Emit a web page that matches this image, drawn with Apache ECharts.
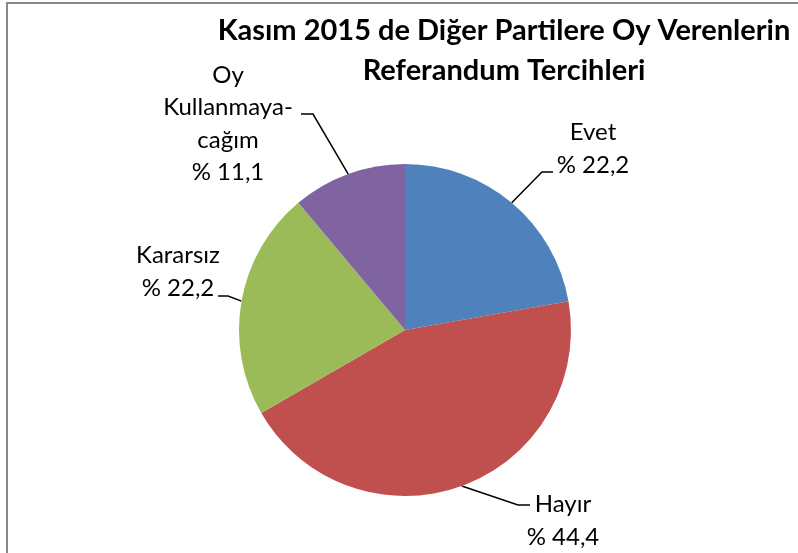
<!DOCTYPE html>
<html>
<head>
<meta charset="utf-8">
<script src="https://cdn.jsdelivr.net/npm/echarts@6/dist/echarts.min.js"></script>
<style>
    html, body { margin: 0; padding: 0; background: #fff; }
    #chart { width: 798px; height: 553px; }
</style>
</head>
<body>
<div id="chart"></div>
<script>
    var categories = ['Evet', 'Hayır', 'Kararsız', 'Oy\nKullanmaya-\ncağım']
    var values = [22.2, 44.4, 22.2, 11.1]
    var colors = ['#4F81BD', '#C0504D', '#9BBB59', '#8064A2']

    // label block centre and leader line bend / end, per slice
    var labelPos = [[593, 149], [563, 521], [178, 272], [228, 124]]
    var bends = [[[542, 172], [553, 172]], [[518, 505], [530, 505]], [[228, 296], [218, 296]], [[313, 114], [301, 114]]]

    var chart = echarts.init(document.getElementById('chart'))

    var data = []
    for (var i = 0; i < categories.length; i++) {
        data.push({ name: categories[i], value: values[i], itemStyle: { color: colors[i] } })
    }

    var option = {
        animation: false,
        title: {
            text: 'Kasım 2015 de Diğer Partilere Oy Verenlerin\nReferandum Tercihleri',
            left: 504,
            top: 11,
            padding: 0,
            textAlign: 'center',
            textStyle: {
                fontFamily: 'Lato',
                fontWeight: 'bold',
                fontSize: 29,
                lineHeight: 40,
                color: '#000'
            }
        },
        graphic: [{
            type: 'rect',
            shape: { x: 7, y: 3, width: 820, height: 580 },
            style: { fill: 'none', stroke: '#888', lineWidth: 2 },
            silent: true
        }],
        series: [{
            type: 'pie',
            center: [405, 330],
            radius: 166,
            startAngle: 90,
            clockwise: true,
            avoidLabelOverlap: false,
            data: data,
            label: {
                show: true,
                position: 'outside',
                formatter: function (p) {
                    return p.name + '\n% ' + p.value.toFixed(1).replace('.', ',')
                },
                fontFamily: 'Lato',
                fontSize: 24,
                lineHeight: 32.5,
                color: '#000',
                align: 'center'
            },
            labelLine: {
                show: true,
                lineStyle: { color: '#000', width: 1.5 }
            },
            labelLayout: function (params) {
                var i = params.dataIndex
                var pts = params.labelLinePoints
                return {
                    x: labelPos[i][0],
                    y: labelPos[i][1],
                    align: 'center',
                    verticalAlign: 'middle',
                    labelLinePoints: [pts[0], bends[i][0], bends[i][1]]
                }
            },
            emphasis: { disabled: true }
        }]
    }

    chart.setOption(option)
</script>
</body>
</html>
